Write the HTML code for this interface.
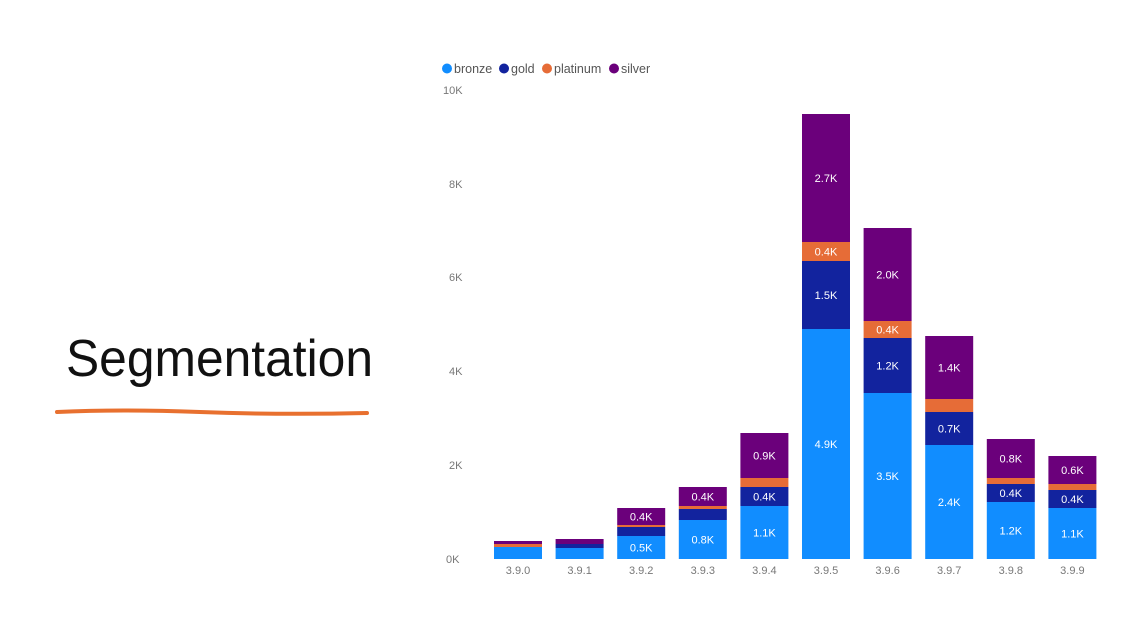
<!DOCTYPE html>
<html><head><meta charset="utf-8"><style>
html,body{margin:0;padding:0;background:#fff;}
svg{display:block;font-family:"Segoe UI","Liberation Sans",sans-serif;}
</style></head><body>
<svg width="1147" height="641" viewBox="0 0 1147 641" xmlns="http://www.w3.org/2000/svg">
<rect width="1147" height="641" fill="#fff"/>
<text x="66" y="376" font-size="52" fill="#111" textLength="307" lengthAdjust="spacingAndGlyphs" font-family="Liberation Sans, sans-serif">Segmentation</text>
<path d="M57 412 Q120 409 200 412 T367 413" stroke="#E8702F" stroke-width="4" fill="none" stroke-linecap="round"/>
<g font-size="12.5" fill="#555">
<circle cx="447" cy="68.5" r="5" fill="#118DFF"/><text x="454" y="73">bronze</text>
<circle cx="504" cy="68.5" r="5" fill="#12239E"/><text x="511" y="73">gold</text>
<circle cx="547" cy="68.5" r="5" fill="#E66C37"/><text x="554" y="73">platinum</text>
<circle cx="614" cy="68.5" r="5" fill="#6B007B"/><text x="621" y="73">silver</text>
</g>
<g font-size="11" fill="#777">
<text x="443" y="94">10K</text>
<text x="449" y="188">8K</text>
<text x="449" y="281">6K</text>
<text x="449" y="375">4K</text>
<text x="449" y="469">2K</text>
<text x="446" y="563">0K</text>
</g>
<g id="bars"></g>
<g font-size="11" fill="#777" text-anchor="middle" id="xl"></g>
</svg>
<script>
var d=[[541,544,547,547,559],[539,544,544,548,559],[508,525,527,536,559],[487,506,509,520,559],[433,478,487,506,559],[114,242,261,329,559],[228,321,338,393,559],[336,399,412,445,559],[439,478,484,502,559],[456,484,490,508,559]];
var lab=[[null,null,null],[null,null,null],["0.4K",null,"0.5K"],["0.4K",null,"0.8K"],["0.9K","0.4K","1.1K"],["2.7K","1.5K","4.9K","0.4K"],["2.0K","1.2K","3.5K","0.4K"],["1.4K","0.7K","2.4K"],["0.8K","0.4K","1.2K"],["0.6K","0.4K","1.1K"]];
var cols=["#6B007B","#E66C37","#12239E","#118DFF"];
var s="",xs="";
d.forEach(function(b,i){var cx=518+i*61.6,x=cx-24;
for(var k=0;k<4;k++){var h=b[k+1]-b[k];if(h>0)s+='<rect x="'+x+'" y="'+b[k]+'" width="48" height="'+h+'" fill="'+cols[k]+'"/>';}
var L=lab[i];
function t(v,y){if(v)s+='<text x="'+cx+'" y="'+(y+4)+'" fill="#fff" font-size="11" text-anchor="middle">'+v+'</text>';}
t(L[0],(b[0]+b[1])/2);t(L[1],(b[2]+b[3])/2);t(L[2],(b[3]+b[4])/2);if(L[3])t(L[3],(b[1]+b[2])/2);
xs+='<text x="'+cx+'" y="574">3.9.'+i+'</text>';});
document.getElementById("bars").innerHTML=s;document.getElementById("xl").innerHTML=xs;
</script>
</body></html>
